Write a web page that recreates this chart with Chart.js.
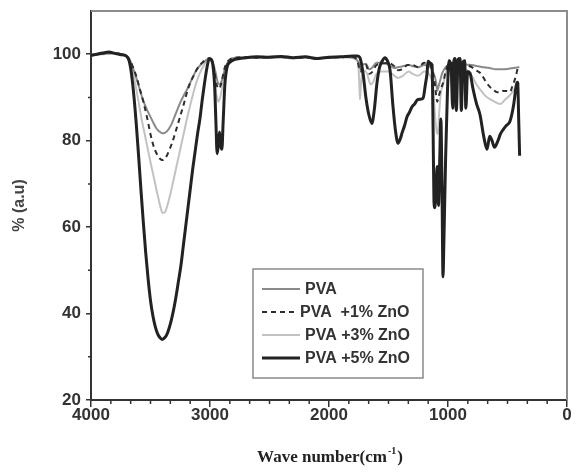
<!DOCTYPE html>
<html lang="en">
<head>
<meta charset="UTF-8">
<title>FTIR PVA / ZnO</title>
<script src="https://cdn.jsdelivr.net/npm/chart.js"></script>
<style>
  html, body { margin: 0; padding: 0; background: #fff; }
</style>
</head>
<body>
<canvas id="myChart" width="577" height="472"></canvas>
<script>
// tick labels
const xTicks = [4000, 3000, 2000, 1000, 0];
const yTicks = [20, 40, 60, 80, 100];

const legendLabels = ['PVA', 'PVA  +1% ZnO', 'PVA +3% ZnO', 'PVA +5% ZnO'];

// PVA
const pvaX = [4000,3900,3800,3740,3700,3670,3650,3613,3590,3560,
  3540,3520,3500,3479,3460,3440,3420,3400,3380,3360,
  3340,3320,3300,3277,3250,3220,3190,3168,3140,3110,
  3080,3059,3030,3010,2990,2970,2955,2940,2930,2920,
  2905,2890,2870,2840,2820,2700,2600,2500,2400,2300,
  2200,2100,2000,1900,1800,1780,1750,1735,1720,1690,
  1660,1640,1600,1560,1500,1450,1420,1380,1330,1290,
  1250,1200,1150,1120,1100,1090,1080,1065,1050,1025,
  1000,950,900,850,800,750,700,650,600,550,
  500,450,410,400];
const pvaY = [99.9,100.1,100.2,100,99.6,98.5,97,94,91.8,89.2,
  87.8,86.6,85.5,84.3,83.3,82.5,82,81.7,81.8,82.2,
  83,84,85.4,87,88.8,90.5,92,93.3,95,96.5,
  97.5,98,98.7,99,98.6,97.5,96,94,93.2,93,
  93.6,95,97,98.5,99,99.3,99.2,99.4,99.3,99.1,
  99.3,99.1,99.2,99.4,99.2,99,98,96.5,97.5,97.8,
  96.5,96.8,98,98,97.6,96.8,97,97.2,97.5,97.2,
  97,97.5,97,95.5,93.5,91.5,92.5,94,95.5,96.8,
  97.5,98,98,97.6,97.5,97.2,97,96.8,96.5,96.5,
  96.6,96.8,97,97];

// PVA +1% ZnO
const zno1X = [4000,3900,3800,3740,3700,3670,3647,3620,3600,3580,
  3560,3530,3500,3480,3462,3440,3420,3400,3380,3360,
  3340,3319,3290,3252,3220,3190,3160,3143,3110,3090,
  3060,3042,3010,2990,2975,2960,2945,2935,2925,2910,
  2895,2880,2860,2830,2800,2700,2600,2500,2400,2300,
  2200,2100,2000,1900,1800,1780,1760,1745,1735,1720,
  1690,1660,1640,1600,1560,1500,1450,1420,1380,1340,
  1300,1250,1200,1150,1125,1110,1100,1090,1080,1060,
  1040,1020,1000,950,900,850,800,760,731,700,
  680,650,620,588,560,540,510,479,460,440,
  425,412,400];
const zno1Y = [99.8,100.2,100.3,99.9,99.5,98.5,97,95,93,91,
  89,85.5,81.5,79.3,77.8,76.6,75.8,75.5,75.8,76.7,
  78,79.4,82,85.5,88.5,91.5,93.8,94.7,96.5,97.3,
  98.2,98.6,99,98.6,97.5,95.5,93,92.3,92,92.8,
  94.5,96.5,98,98.8,99.1,99.3,99.2,99.3,99.4,99.1,
  99.3,99,99.2,99.3,99.4,99.2,98.5,96.5,96,97,
  97.5,95.5,95.8,97.5,97.8,98,97.2,96.3,96.6,97.5,
  97.5,97,98,97.5,95.5,93,90.5,89,90,92,
  93.5,96,97.5,98,98,97.6,97,96.2,95.7,94.5,
  93.5,92.5,91.8,91.2,91.2,91.5,91.5,91.3,92.5,94,
  95.5,96.8,96.5];

// PVA +3% ZnO
const zno3X = [4000,3900,3800,3740,3700,3680,3660,3640,3620,3600,
  3580,3560,3546,3520,3500,3480,3462,3445,3430,3415,
  3400,3385,3370,3350,3330,3310,3290,3270,3252,3230,
  3210,3190,3168,3145,3120,3095,3070,3050,3030,3005,
  2985,2970,2960,2945,2930,2915,2895,2870,2850,2830,
  2750,2600,2500,2400,2300,2200,2100,2000,1900,1800,
  1770,1755,1745,1740,1733,1720,1700,1680,1650,1630,
  1600,1560,1500,1450,1420,1380,1330,1300,1250,1200,
  1150,1125,1110,1095,1085,1075,1060,1040,1020,1000,
  950,900,850,800,760,720,680,620,560,520,
  480,440,412,400];
const zno3Y = [99.7,100,100.2,99.8,99.4,98.5,97,94.8,92,89,
  85.8,83,81.2,77.7,75,72.5,70.2,68,66.2,64.5,
  63.3,63.3,64,65.8,68,70.5,73,75.5,77.8,80.5,
  83,85.5,88,90.5,93,95,96.5,97.5,98.5,99,
  97.8,95.5,93.5,90.5,89,90,92.5,96,97.5,98.5,
  99,99.2,99.1,99.3,99,99.2,99,99.1,99.3,99.1,
  98.8,97.8,93,89.5,92.5,96,96.2,95.5,93,93.5,
  95.5,96,96,95,94.5,95,96,95.5,95,96,
  95,92,86,82,81.5,86,91,93,95.5,97,
  97.5,97,96.5,95,93,91.5,90.2,89.2,88.5,89.5,
  90.5,92,93.3,93];

// PVA +5% ZnO
const zno5X = [4000,3950,3900,3850,3800,3750,3720,3700,3680,3660,
  3640,3620,3600,3580,3560,3540,3520,3500,3480,3460,
  3440,3420,3403,3385,3365,3345,3325,3305,3285,3265,
  3245,3225,3205,3185,3165,3145,3125,3105,3085,3065,
  3045,3025,3005,2990,2975,2960,2950,2940,2930,2920,
  2910,2900,2890,2875,2857,2830,2800,2773,2700,2605,
  2500,2400,2300,2200,2100,2000,1900,1800,1760,1740,
  1714,1690,1665,1640,1620,1597,1575,1555,1530,1510,
  1487,1462,1440,1420,1400,1387,1365,1345,1325,1303,
  1280,1260,1235,1210,1190,1176,1168,1150,1134,1125,
  1118,1110,1100,1090,1080,1070,1060,1050,1042,1035,
  1020,1005,992,975,960,950,941,930,915,899,
  888,875,860,850,835,815,790,760,731,700,
  672,650,630,610,580,560,538,510,479,450,
  425,415,405,398];
const zno5Y = [99.7,100,100.3,100.5,100.2,99.9,99.8,99.5,98.5,95.5,
  90.5,84,76.5,68.5,61,54,48,43,39.5,37,
  35.3,34.4,34,34.3,35,36.5,38.5,41,44,47.5,
  51,55.5,60,64.5,69,73.5,77.5,81.5,85,89.5,
  93.5,97,99,98.8,97.5,92,84,77,79,82,
  79,78,84,93,97,98.2,98.7,98.9,99.2,99.4,
  99.3,99.5,99.2,99.4,99,99.3,99.4,99.6,99.6,99.2,
  95.6,90,86,84,87,93.3,97,98.3,99.2,98.5,
  96.3,87.8,82,79.4,80.5,81.7,83.5,85.5,86.5,87.8,
  88.5,89.4,89.6,89.8,93,95.6,98.4,98,97.5,82,
  66,64.5,70,74,65,75,85,68,48.5,56,
  76,91,98.5,97.5,87.5,98.5,99,87,98.8,99,
  87,98,98.5,87.5,96,95.6,92,88.5,86,81,
  78,81,80,78.5,80,81.5,82.5,83.5,84.5,88,
  93,93.5,84,76.5];

function pontos(xs, ys) {
  return xs.map((x, i) => ({ x: x, y: ys[i] }));
}

const dados = {
  datasets: [
    { label: legendLabels[0], data: pontos(pvaX, pvaY), borderColor: '#8a8a8a', borderWidth: 2, order: 2 },
    { label: legendLabels[1], data: pontos(zno1X, zno1Y), borderColor: '#2e2e2e', borderWidth: 2, borderDash: [5, 4], order: 1 },
    { label: legendLabels[2], data: pontos(zno3X, zno3Y), borderColor: '#c2c2c2', borderWidth: 2, order: 3 },
    { label: legendLabels[3], data: pontos(zno5X, zno5Y), borderColor: '#222222', borderWidth: 3, order: 0 }
  ]
};
dados.datasets.forEach(d => {
  d.pointRadius = 0;
  d.fill = false;
  d.cubicInterpolationMode = 'monotone';
});

// moldura, ticks menores, legenda e titulo do eixo x
const extras = {
  id: 'extras',
  afterDraw(chart) {
    const ctx = chart.ctx;
    const a = chart.chartArea;
    const x = chart.scales.x;
    const y = chart.scales.y;
    ctx.save();

    ctx.strokeStyle = '#8c8c8c';
    ctx.lineWidth = 2;
    ctx.beginPath();
    ctx.moveTo(a.left, a.top);
    ctx.lineTo(a.right, a.top);
    ctx.lineTo(a.right, a.bottom);
    ctx.stroke();

    ctx.strokeStyle = '#333';
    ctx.lineWidth = 1.5;
    ctx.beginPath();
    for (let i = 0; i < xTicks.length - 1; i++) {
      const passo = (xTicks[i + 1] - xTicks[i]) / 6;
      for (let k = 1; k < 6; k++) {
        const px = x.getPixelForValue(xTicks[i] + passo * k);
        ctx.moveTo(px, a.bottom);
        ctx.lineTo(px, a.bottom + 4);
      }
    }
    for (let i = 0; i < yTicks.length - 1; i++) {
      const py = y.getPixelForValue((yTicks[i] + yTicks[i + 1]) / 2);
      ctx.moveTo(a.left, py);
      ctx.lineTo(a.left - 3, py);
    }
    ctx.stroke();

    // legenda
    ctx.strokeStyle = '#8a8a8a';
    ctx.lineWidth = 1.5;
    ctx.strokeRect(253, 269, 170, 109);
    ctx.font = 'bold 16px "Liberation Sans", Arial, sans-serif';
    ctx.textBaseline = 'middle';
    ctx.fillStyle = '#333';
    const linhas = [289, 312, 335, 358];
    chart.data.datasets.forEach((d, i) => {
      ctx.strokeStyle = d.borderColor;
      ctx.lineWidth = d.borderWidth;
      ctx.setLineDash(d.borderDash || []);
      ctx.beginPath();
      ctx.moveTo(262, linhas[i]);
      ctx.lineTo(i === 1 ? 297 : 300, linhas[i]);
      ctx.stroke();
      ctx.setLineDash([]);
      ctx.fillText(d.label, i === 1 ? 300 : 305, linhas[i] + 1);
    });

    // titulo do eixo x com expoente
    const base = 'Wave number(cm';
    const sup = '-1';
    const fim = ')';
    ctx.fillStyle = '#222';
    ctx.textBaseline = 'alphabetic';
    ctx.font = 'bold 17px "Liberation Serif", "Times New Roman", serif';
    const w1 = ctx.measureText(base).width;
    const w3 = ctx.measureText(fim).width;
    ctx.font = 'bold 10px "Liberation Serif", "Times New Roman", serif';
    const w2 = ctx.measureText(sup).width;
    const x0 = (a.left + a.right) / 2 - (w1 + w2 + w3) / 2;
    const by = 462;
    ctx.font = 'bold 17px "Liberation Serif", "Times New Roman", serif';
    ctx.fillText(base, x0, by);
    ctx.font = 'bold 10px "Liberation Serif", "Times New Roman", serif';
    ctx.fillText(sup, x0 + w1 + 1, by - 8);
    ctx.font = 'bold 17px "Liberation Serif", "Times New Roman", serif';
    ctx.fillText(fim, x0 + w1 + w2 + 2, by);

    ctx.restore();
  }
};

Chart.defaults.font.family = '"Liberation Sans", Arial, sans-serif';

const config = {
  type: 'line',
  data: dados,
  options: {
    responsive: false,
    animation: false,
    layout: { padding: { top: 11, right: 10, left: 0, bottom: 0 } },
    plugins: { legend: { display: false }, tooltip: { enabled: false } },
    scales: {
      x: {
        type: 'linear',
        reverse: true,
        min: 0,
        max: 4000,
        afterBuildTicks: s => { s.ticks = xTicks.map(v => ({ value: v })); },
        afterFit: s => { s.height = 72; s.paddingLeft = 0; s.paddingRight = 0; },
        grid: { drawOnChartArea: false, tickLength: 7, color: '#333', lineWidth: 1.5 },
        border: { color: '#333', width: 2 },
        ticks: { font: { size: 17, weight: 'bold' }, color: '#333', padding: -2, maxRotation: 0, autoSkip: false, callback: v => String(v) }
      },
      y: {
        min: 20,
        max: 110,
        afterBuildTicks: s => { s.ticks = yTicks.map(v => ({ value: v })); },
        afterFit: s => { s.width = 91; s.paddingTop = 0; s.paddingBottom = 0; },
        grid: { drawOnChartArea: false, tickLength: 5, color: '#333', lineWidth: 1.5 },
        border: { color: '#333', width: 2 },
        ticks: { font: { size: 17, weight: 'bold' }, color: '#333', padding: 5, callback: v => String(v) },
        title: { display: true, text: '% (a.u)', color: '#444', font: { size: 16, weight: 'bold' }, padding: { top: 10, bottom: 0 } }
      }
    }
  },
  plugins: [extras]
};

let myChart = new Chart(document.getElementById('myChart'), config);
</script>
</body>
</html>
